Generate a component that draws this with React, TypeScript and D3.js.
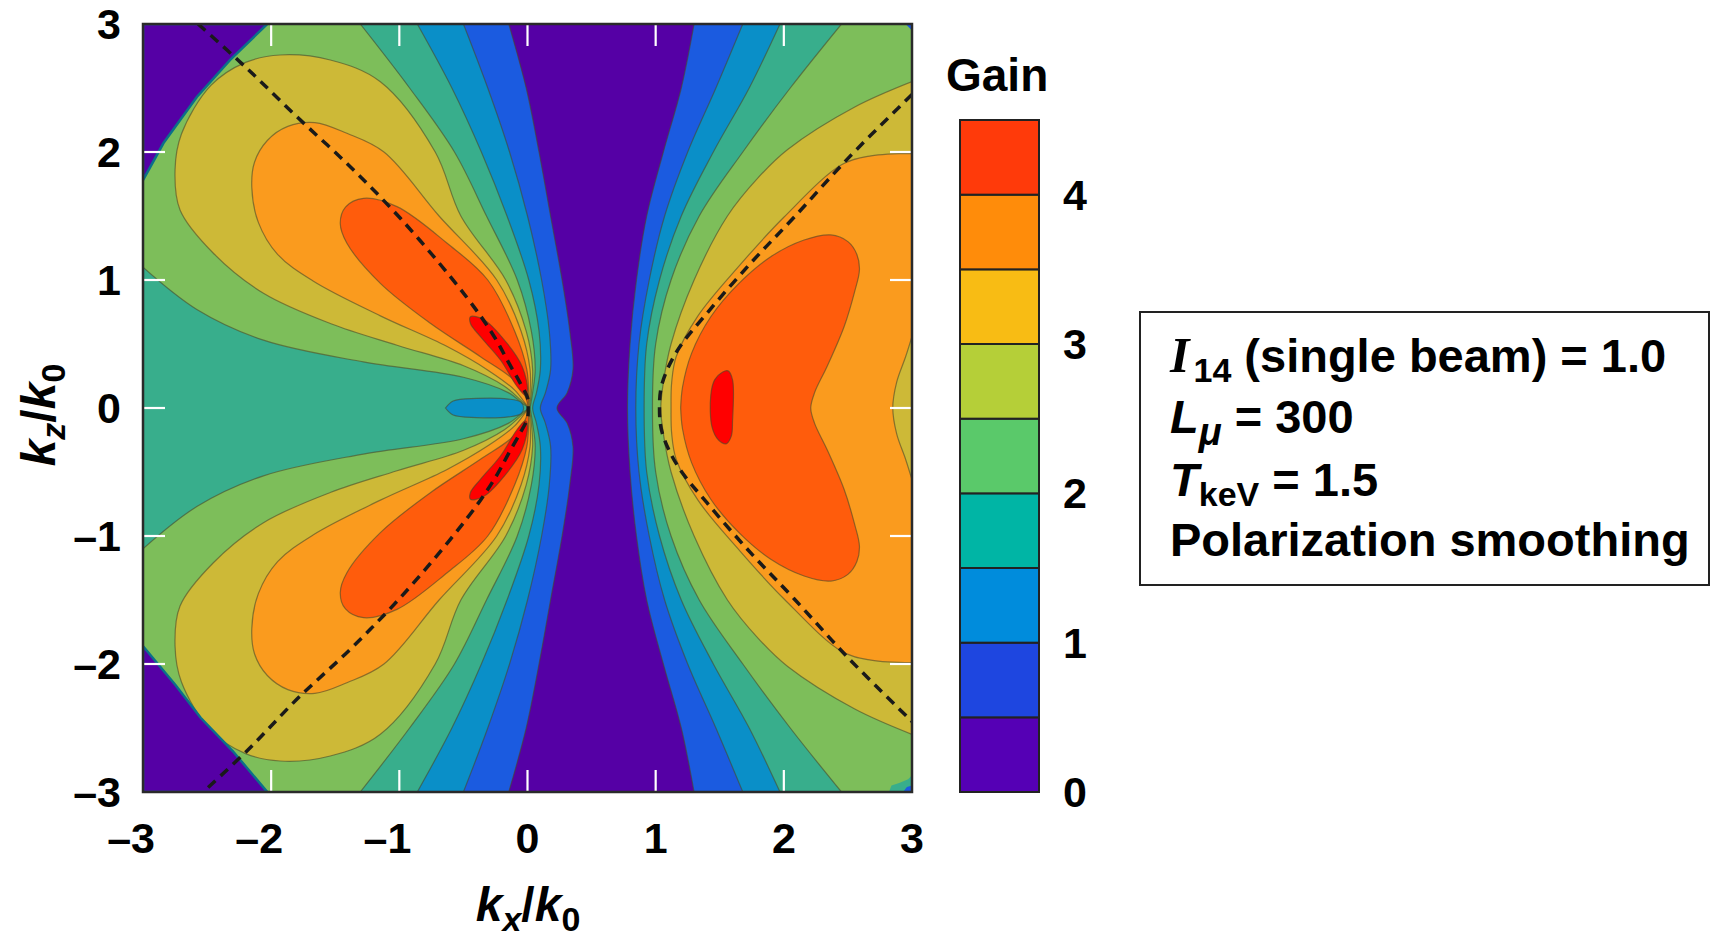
import React from 'react';
import * as d3 from 'd3';

type Pt = [number, number];

// gain bands of the contour plot
const levels = [0, 0.5, 1, 1.5, 2, 2.5, 3, 3.5, 4, 4.5];
const plotColors = ['#5500a5', '#1b5be0', '#0a8fc8', '#38ae8c', '#7dbe5a', '#cdb937', '#fa9b1e', '#ff5c0c', '#ff0000'];
const barColors = ['#5500b5', '#1e46e0', '#008cdc', '#00b5a5', '#5ac96a', '#b5cf38', '#f8bc14', '#ff8c0a', '#ff3a0a'];
const barTicks = [0, 1, 2, 3, 4];
const axisTicks = [-3, -2, -1, 0, 1, 2, 3];
const innerTicks = [-2, -1, 0, 1, 2];

// contour lines as (kx/k0, kz/k0), upper half only;
// the map is symmetric in kz so the lower half is the mirror image
const leftL05: Pt[] = [[-0.146, 3], [-0.01, 2.5], [0.09, 2], [0.18, 1.5], [0.27, 1], [0.33, 0.6], [0.355, 0.3], [0.31, 0.12], [0.23, 0]];
const leftL10: Pt[] = [[-0.5, 3], [-0.31, 2.5], [-0.14, 2], [0, 1.5], [0.11, 1], [0.17, 0.6], [0.18, 0.3], [0.14, 0.12], [0.1, 0]];
const leftL15: Pt[] = [[-0.86, 3], [-0.59, 2.5], [-0.36, 2], [-0.16, 1.5], [0.01, 1], [0.09, 0.6], [0.1, 0.3], [0.07, 0.12], [0.04, 0]];
const leftL20: Pt[] = [[-1.305, 3], [-0.92, 2.5], [-0.57, 2], [-0.32, 1.5], [-0.08, 1], [0.03, 0.6], [0.06, 0.3], [0.04, 0.12], [0.02, 0]];
const leftL20Lower: Pt[] = [[0.02, 0], [-0.03, 0.03], [-0.15, 0.12], [-0.5, 0.24], [-1.28, 0.36], [-2.06, 0.53], [-2.58, 0.77], [-3, 1.1]];
const leftL25: Pt[] = [[0.015, 0], [0.03, 0.12], [0.04, 0.3], [-0.01, 0.6], [-0.17, 1], [-0.52, 1.5], [-0.72, 2], [-1.148, 2.549], [-1.539, 2.719], [-1.93, 2.758], [-2.2, 2.7], [-2.47, 2.52], [-2.7, 2.14], [-2.75, 1.859], [-2.711, 1.547], [-2.451, 1.209], [-2.06, 0.896], [-1.539, 0.66], [-1.018, 0.49], [-0.498, 0.33], [-0.18, 0.17], [-0.04, 0.05], [0.015, 0]];
const leftL30: Pt[] = [[0.01, 0], [0.02, 0.12], [0.02, 0.3], [-0.05, 0.6], [-0.24, 1], [-0.69, 1.5], [-1.12, 2], [-1.409, 2.146], [-1.66, 2.23], [-1.87, 2.2], [-2.03, 2.09], [-2.13, 1.92], [-2.151, 1.72], [-2.1, 1.45], [-1.95, 1.2], [-1.67, 0.99], [-1.148, 0.72], [-0.627, 0.48], [-0.3, 0.29], [-0.1, 0.14], [-0.02, 0.04], [0.01, 0]];
const leftL35: Pt[] = [[0.005, 0], [0.008, 0.12], [-0.005, 0.3], [-0.1, 0.6], [-0.31, 1], [-0.627, 1.287], [-1.018, 1.573], [-1.279, 1.638], [-1.42, 1.57], [-1.461, 1.443], [-1.409, 1.287], [-1.148, 0.974], [-0.758, 0.662], [-0.367, 0.401], [-0.107, 0.219], [-0.016, 0.088], [0.005, 0]];
const leftL40: Pt[] = [[-0.445, 0.713], [-0.34, 0.69], [-0.159, 0.505], [-0.041, 0.323], [0, 0.14], [-0.016, 0.1], [-0.08, 0.166], [-0.211, 0.375], [-0.367, 0.557], [-0.445, 0.66]];
const leftIsland: Pt[] = [[-0.64, 0], [-0.58, 0.055], [-0.4, 0.075], [-0.15, 0.07], [-0.05, 0.045], [-0.03, 0]];

const rightL05: Pt[] = [[1.3, 3], [1.2, 2.5], [1.06, 2], [0.93, 1.5], [0.85, 1], [0.8, 0.5], [0.78, 0]];
const rightL10: Pt[] = [[1.68, 3], [1.47, 2.5], [1.25, 2], [1.07, 1.5], [0.95, 1], [0.87, 0.5], [0.845, 0]];
const rightL15: Pt[] = [[1.97, 3], [1.73, 2.5], [1.45, 2], [1.2, 1.5], [1.03, 1], [0.93, 0.5], [0.91, 0]];
const rightL20: Pt[] = [[2.45, 3], [2.05, 2.5], [1.68, 2], [1.34, 1.5], [1.12, 1], [1, 0.5], [0.975, 0]];
const rightL25: Pt[] = [[3, 2.55], [2.55, 2.35], [2.03, 2.02], [1.8, 1.8], [1.56, 1.5], [1.3, 1], [1.12, 0.5], [1.06, 0.2], [1.04, 0]];
const rightL30: Pt[] = [[3, 1.99], [2.68, 1.97], [2.45, 1.9], [2, 1.49], [1.66, 1.12], [1.33, 0.72], [1.16, 0.4], [1.125, 0.2], [1.12, 0]];
const rightBump: Pt[] = [[3, 0.56], [2.95, 0.4], [2.88, 0.2], [2.85, 0]];
const rightL35: Pt[] = [[1.195, 0], [1.21, 0.166], [1.28, 0.427], [1.43, 0.713], [1.65, 0.974], [1.898, 1.182], [2.158, 1.3125], [2.367, 1.352], [2.5, 1.3], [2.57, 1.2], [2.59, 1.08], [2.55, 0.9], [2.47, 0.635], [2.34, 0.33], [2.24, 0.12], [2.21, 0]];
const rightL40: Pt[] = [[1.43, 0.1], [1.46, 0.22], [1.52, 0.28], [1.565, 0.29], [1.6, 0.22], [1.6, -0.1], [1.59, -0.22], [1.55, -0.28], [1.49, -0.25], [1.44, -0.15]];

// empty (gain ~0) corners and the small edge artefacts
const cornerTop: Pt[] = [[-3, 3], [-2.03, 3], [-2.32, 2.72], [-2.58, 2.43], [-2.71, 2.25], [-2.84, 2.07], [-3, 1.78]];
const cornerBottom: Pt[] = [[-3, -3], [-2.03, -3], [-2.3, -2.68], [-2.55, -2.42], [-2.75, -2.16], [-2.9, -1.98], [-3, -1.86]];
const cornerBottomRight: Pt[] = [[2.82, -3], [2.84, -2.95], [2.9, -2.93], [2.97, -2.9], [3, -2.87], [3, -3]];
const cornerBottomRightInner: Pt[] = [[2.93, -3], [2.96, -2.96], [3, -2.95], [3, -3]];
const cornerTopRight: Pt[] = [[2.95, 3], [3, 3], [3, 2.95]];

// dashed curves
const dashLeft: Pt[] = [[-2.57, 3], [-2.19, 2.654], [-1.8, 2.276], [-1.383, 1.885], [-0.992, 1.482], [-0.602, 1.026], [-0.367, 0.72], [-0.237, 0.52], [-0.15, 0.36], [-0.06, 0.2], [0, 0.08], [0.005, 0],
  [0, -0.08], [-0.06, -0.2], [-0.15, -0.36], [-0.237, -0.52], [-0.367, -0.72], [-0.602, -1.026], [-0.992, -1.482], [-1.383, -1.885], [-1.8, -2.276], [-2.17, -2.66], [-2.53, -3]];
const dashRight: Pt[] = [[3, 2.45], [2.97, 2.42], [2.51, 1.96], [2.08, 1.49], [1.74, 1.13], [1.4, 0.74], [1.17, 0.45], [1.05, 0.19], [1.03, 0]];

const plot = { left: 143, top: 24, right: 912, bottom: 792 };
const x = d3.scaleLinear().domain([-3, 3]).range([plot.left, plot.right]);
const y = d3.scaleLinear().domain([-3, 3]).range([plot.bottom, plot.top]);
const cb = d3.scaleLinear().domain([0, 4.5]).range([792, 120]);

const mirror = (pts: Pt[]): Pt[] => pts.map(([a, b]) => [a, -b] as Pt);
const full = (up: Pt[]): Pt[] => [...up, ...mirror(up).reverse().slice(1)];

const smooth = d3.line<Pt>().x(d => x(d[0])).y(d => y(d[1])).curve(d3.curveCatmullRom.alpha(0.5));
const closed = d3.line<Pt>().x(d => x(d[0])).y(d => y(d[1])).curve(d3.curveCatmullRomClosed.alpha(0.5));
const linear = d3.line<Pt>().x(d => x(d[0])).y(d => y(d[1]));

// smooth runs joined by straight segments
function joinRuns(runs: Pt[][]): string {
  return runs.map((r, i) => {
    const s = r.length === 1 ? `M${x(r[0][0])},${y(r[0][1])}` : smooth(r)!;
    return i === 0 ? s : 'L' + s.slice(1);
  }).join('') + 'Z';
}

const bands: { d: string; c: number }[] = [
  { d: joinRuns([[[-3, 3]], full(leftL05), [[-3, -3]]]), c: 1 },
  { d: joinRuns([[[3, 3]], full(rightL05), [[3, -3]]]), c: 1 },
  { d: joinRuns([[[-3, 3]], full(leftL10), [[-3, -3]]]), c: 2 },
  { d: joinRuns([[[3, 3]], full(rightL10), [[3, -3]]]), c: 2 },
  { d: joinRuns([[[-3, 3]], full(leftL15), [[-3, -3]]]), c: 3 },
  { d: joinRuns([[[3, 3]], full(rightL15), [[3, -3]]]), c: 3 },
  { d: joinRuns([[[-3, 3]], leftL20, leftL20Lower]), c: 4 },
  { d: joinRuns([[[-3, -3]], mirror(leftL20), mirror(leftL20Lower)]), c: 4 },
  { d: joinRuns([[[3, 3]], full(rightL20), [[3, -3]]]), c: 4 },
  { d: joinRuns([leftL25]), c: 5 },
  { d: joinRuns([mirror(leftL25)]), c: 5 },
  { d: joinRuns([full(rightL25)]), c: 5 },
  { d: joinRuns([leftL30]), c: 6 },
  { d: joinRuns([mirror(leftL30)]), c: 6 },
  { d: joinRuns([full(rightL30)]), c: 6 },
  { d: joinRuns([full(rightBump)]), c: 5 },
  { d: joinRuns([leftL35]), c: 7 },
  { d: joinRuns([mirror(leftL35)]), c: 7 },
  { d: closed(full(rightL35))!, c: 7 },
  { d: closed(leftL40)!, c: 8 },
  { d: closed(mirror(leftL40))!, c: 8 },
  { d: closed(rightL40)!, c: 8 },
  { d: closed(full(leftIsland))!, c: 2 },
];

const font = 'Liberation Sans, Arial, Helvetica, sans-serif';
const label = (t: number) => (t < 0 ? '\u2013' + (-t) : String(t));

const App = () => {
  return (
    <svg width={1711} height={937} style={{ position: 'absolute', left: 0, top: 0, background: '#fff' }}
      fontFamily={font} fontWeight='bold'>
      <defs>
        <clipPath id='plotClip'>
          <rect x={plot.left} y={plot.top} width={plot.right - plot.left} height={plot.bottom - plot.top} />
        </clipPath>
      </defs>

      {/* contour map */}
      <g clipPath='url(#plotClip)'>
        <rect x={plot.left} y={plot.top} width={plot.right - plot.left} height={plot.bottom - plot.top} fill={plotColors[0]} />
        {bands.map((b, i) => (
          <path key={i} d={b.d} fill={plotColors[b.c]} stroke='#4a4a2a' strokeOpacity={0.6} strokeWidth={1.2} />
        ))}
        {[cornerTop, cornerBottom].map((c, i) => (
          <path key={'c' + i} d={linear(c)! + 'Z'} fill={plotColors[0]} stroke='#0b6f8a' strokeWidth={2.5} />
        ))}
        <path d={linear(cornerBottomRight)! + 'Z'} fill={plotColors[3]} />
        <path d={linear(cornerBottomRightInner)! + 'Z'} fill={plotColors[1]} />
        <path d={linear(cornerTopRight)! + 'Z'} fill={plotColors[1]} />
        <path d={smooth(dashLeft)!} fill='none' stroke='#1a1a1a' strokeWidth={3.5} strokeDasharray='10 7' />
        <path d={smooth(full(dashRight))!} fill='none' stroke='#1a1a1a' strokeWidth={3.5} strokeDasharray='10 7' />
      </g>

      {/* inner white ticks */}
      <g stroke='#fff' strokeWidth={2.2}>
        {innerTicks.map(t => (
          <g key={t}>
            <line x1={x(t)} x2={x(t)} y1={plot.bottom} y2={plot.bottom - 22} />
            <line x1={x(t)} x2={x(t)} y1={plot.top} y2={plot.top + 22} />
            <line x1={plot.left} x2={plot.left + 22} y1={y(t)} y2={y(t)} />
            <line x1={plot.right} x2={plot.right - 22} y1={y(t)} y2={y(t)} />
          </g>
        ))}
      </g>
      <rect x={plot.left} y={plot.top} width={plot.right - plot.left} height={plot.bottom - plot.top}
        fill='none' stroke='#2a2a2a' strokeWidth={2.5} />

      {/* tick labels: the digit sits on the tick, the minus hangs to the left */}
      {axisTicks.map(t => (
        <text key={'x' + t} x={x(t) + 12} y={853} textAnchor='end' fontSize={43}>{label(t)}</text>
      ))}
      {axisTicks.map(t => (
        <text key={'y' + t} x={121} y={y(t) + 15} textAnchor='end' fontSize={43}>{label(t)}</text>
      ))}

      {/* axis titles */}
      <text x={528} y={921} textAnchor='middle' fontSize={48}>
        <tspan fontStyle='italic'>k</tspan>
        <tspan fontStyle='italic' fontSize={34} dy={10}>x</tspan>
        <tspan dy={-10}>/</tspan>
        <tspan fontStyle='italic'>k</tspan>
        <tspan fontSize={34} dy={10}>0</tspan>
      </text>
      <text transform='translate(55,415) rotate(-90)' textAnchor='middle' fontSize={48}>
        <tspan fontStyle='italic'>k</tspan>
        <tspan fontStyle='italic' fontSize={34} dy={10}>z</tspan>
        <tspan dy={-10}>/</tspan>
        <tspan fontStyle='italic'>k</tspan>
        <tspan fontSize={34} dy={10}>0</tspan>
      </text>

      {/* colour bar */}
      <text x={946} y={91} fontSize={46}>Gain</text>
      {barColors.map((c, i) => (
        <rect key={i} x={960} y={cb(levels[i + 1])} width={79} height={cb(levels[i]) - cb(levels[i + 1])}
          fill={c} stroke='#222' strokeWidth={2} />
      ))}
      {barTicks.map(t => (
        <text key={'b' + t} x={1063} y={cb(t) + 15} fontSize={43}>{t}</text>
      ))}

      {/* parameter box */}
      <rect x={1140} y={312} width={569} height={273} fill='#fff' stroke='#222' strokeWidth={2} />
      <g fontSize={47}>
        <text x={1170} y={372}>
          <tspan fontFamily='Liberation Serif, Times New Roman, serif' fontStyle='italic' fontWeight='bold' fontSize={50}>I</tspan>
          <tspan fontSize={34} dy={10} dx={4}>14</tspan>
          <tspan dy={-10}> (single beam) = 1.0</tspan>
        </text>
        <text x={1170} y={433}>
          <tspan fontStyle='italic'>L</tspan>
          <tspan fontStyle='italic' fontSize={38} dy={12}>μ</tspan>
          <tspan dy={-12}> = 300</tspan>
        </text>
        <text x={1170} y={496}>
          <tspan fontStyle='italic'>T</tspan>
          <tspan fontSize={34} dy={10}>keV</tspan>
          <tspan dy={-10}> = 1.5</tspan>
        </text>
        <text x={1170} y={556}>Polarization smoothing</text>
      </g>
    </svg>
  );
};

export default App;
